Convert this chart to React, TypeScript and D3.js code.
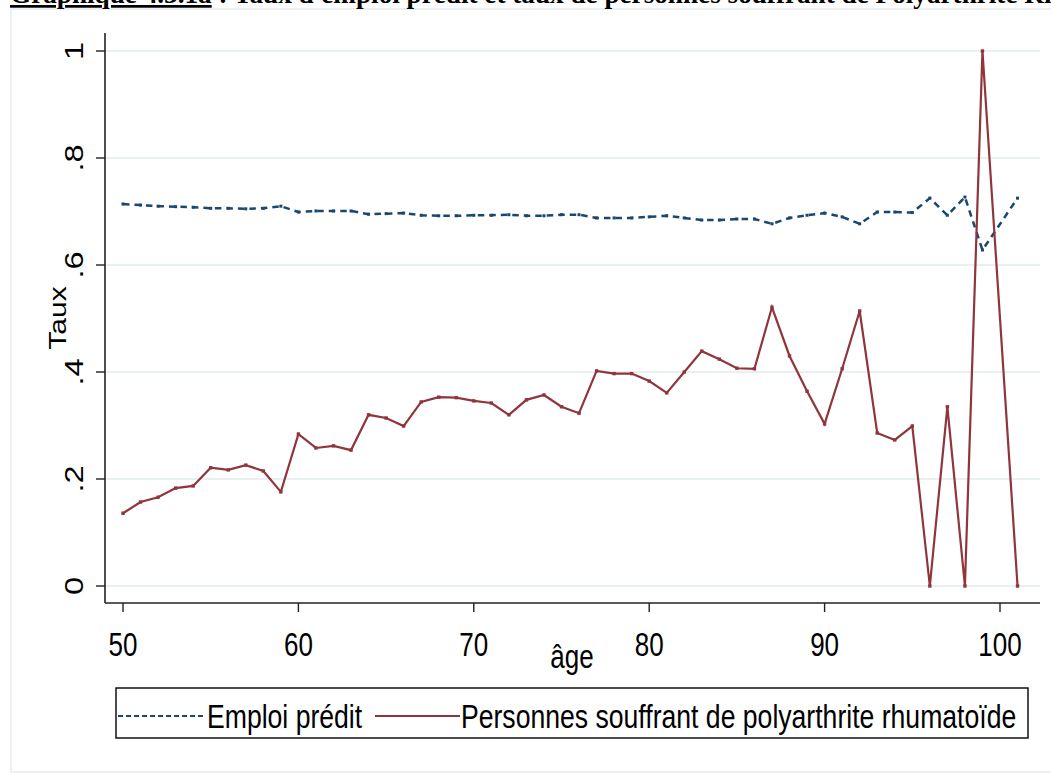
import React from "react";
import * as d3 from "d3";

const ages: number[] = [50,51,52,53,54,55,56,57,58,59,60,61,62,63,64,65,66,67,68,69,70,71,72,73,74,75,76,77,78,79,80,81,82,83,84,85,86,87,88,89,90,91,92,93,94,95,96,97,98,99,100,101];

const emploiPredit: (number | null)[] = [
  0.714,0.712,0.710,0.709,0.708,0.706,0.706,0.705,0.706,0.710,
  0.699,0.701,0.701,0.701,0.695,0.696,0.697,0.693,0.692,0.692,
  0.693,0.693,0.694,0.692,0.692,0.694,0.694,0.688,0.688,0.688,
  0.690,0.692,0.688,0.684,0.684,0.686,0.686,0.677,0.688,0.693,
  0.697,0.690,0.677,0.699,0.699,0.698,0.725,0.693,0.727,0.628,
  null,0.725
];

const polyarthrite: (number | null)[] = [
  0.136,0.157,0.166,0.183,0.187,0.221,0.217,0.226,0.215,0.176,
  0.284,0.258,0.262,0.254,0.320,0.314,0.299,0.344,0.353,0.352,
  0.346,0.342,0.320,0.348,0.357,0.335,0.323,0.402,0.397,0.397,
  0.383,0.361,0.400,0.439,0.424,0.407,0.406,0.521,0.430,0.364,
  0.303,0.406,0.514,0.286,0.273,0.299,0,0.335,0,1.0,
  null,0
];

const xTicks: number[] = [50,60,70,80,90,100];
const yTicks: number[] = [0,0.2,0.4,0.6,0.8,1];
const yTickLabels: string[] = ["0",".2",".4",".6",".8","1"];

const seriesNames: string[] = ["Emploi prédit", "Personnes souffrant de polyarthrite rhumatoïde"];
const titleLead = "Graphique 4.3.1a";
const titleRest = " : Taux d'emploi prédit et taux de personnes souffrant de Polyarthrite Rhumatoïde";
const xTitle = "âge";
const yTitle = "Taux";

const BLUE = "#1a476f";
const RED = "#90353b";
const GRID = "#e9f0f2";
const SANS = "'Liberation Sans', Arial, sans-serif";
const SY = 1.25;

export default function App() {
  const W = 1051, H = 774;
  const plot = { left: 105, right: 1040, top: 33, bottom: 603 };
  const x = d3.scaleLinear().domain([50, 100]).range([123, 1000]);
  const y = d3.scaleLinear().domain([0, 1]).range([586, 51]);

  const mk = (vals: (number | null)[]) =>
    ages.map((a, i) => ({ a, v: vals[i] })).filter(d => d.v !== null) as { a: number; v: number }[];
  const empPts = mk(emploiPredit);
  const polyPts = mk(polyarthrite);
  const line = d3.line<{ a: number; v: number }>().x(d => x(d.a)).y(d => y(d.v));

  const fs = 26;
  const lfs = 26.6;

  return (
    <svg width={W} height={H} style={{ position: "absolute", left: 0, top: 0, background: "#fff" }}>
      {/* outer frame */}
      <rect x={11} y={9} width={1100} height={763} fill="none" stroke="#e6ecef" strokeWidth={1.5} />
      {/* title (clipped at the top edge as in the source) */}
      <text x={10} y={3} fontFamily="'Liberation Serif', 'Times New Roman', serif" fontWeight="bold" fontSize={27.2} fill="#000">
        <tspan textDecoration="underline">{titleLead}</tspan>
        <tspan>{titleRest}</tspan>
      </text>
      {/* gridlines */}
      {yTicks.map(t => (
        <line key={"g" + t} x1={plot.left} x2={plot.right} y1={y(t)} y2={y(t)} stroke={GRID} strokeWidth={2} />
      ))}
      {/* axes */}
      <line x1={plot.left} x2={plot.left} y1={plot.top} y2={plot.bottom} stroke="#222" strokeWidth={1.6} />
      <line x1={plot.left} x2={plot.right} y1={plot.bottom} y2={plot.bottom} stroke="#222" strokeWidth={1.6} />
      {yTicks.map((t, i) => (
        <g key={"yt" + t}>
          <line x1={plot.left - 9} x2={plot.left} y1={y(t)} y2={y(t)} stroke="#222" strokeWidth={1.4} />
          <g transform={`translate(83,${y(t)}) rotate(-90) scale(${SY},1)`}>
            <text textAnchor="middle" fontFamily={SANS} fontSize={fs} fill="#000">{yTickLabels[i]}</text>
          </g>
        </g>
      ))}
      {xTicks.map(t => (
        <g key={"xt" + t}>
          <line x1={x(t)} x2={x(t)} y1={plot.bottom} y2={plot.bottom + 9} stroke="#222" strokeWidth={1.4} />
          <g transform={`translate(${x(t)},656) scale(1,${SY})`}>
            <text textAnchor="middle" fontFamily={SANS} fontSize={fs} fill="#000">{t}</text>
          </g>
        </g>
      ))}
      <g transform={`translate(572,668) scale(1,${SY})`}>
        <text textAnchor="middle" fontFamily={SANS} fontSize={fs} fill="#000">{xTitle}</text>
      </g>
      <g transform={`translate(66,318) rotate(-90) scale(${SY},1)`}>
        <text textAnchor="middle" fontFamily={SANS} fontSize={24} fill="#000">{yTitle}</text>
      </g>
      {/* series */}
      <path d={line(empPts) || ""} fill="none" stroke={BLUE} strokeWidth={2.5} strokeDasharray="6.5,5" />
      {empPts.map(d => (
        <rect key={"em" + d.a} x={x(d.a) - 1.5} y={y(d.v) - 1.5} width={3} height={3} fill={BLUE} />
      ))}
      <path d={line(polyPts) || ""} fill="none" stroke={RED} strokeWidth={2.2} strokeLinejoin="miter" />
      {polyPts.map(d => (
        <rect key={"po" + d.a} x={x(d.a) - 1.7} y={y(d.v) - 1.7} width={3.4} height={3.4} fill={RED} />
      ))}
      {/* legend */}
      <rect x={116} y={688} width={912} height={50} fill="#fff" stroke="#111" strokeWidth={1.5} />
      <line x1={118} x2={205} y1={716} y2={716} stroke={BLUE} strokeWidth={2} strokeDasharray="5,3" />
      <g transform={`translate(207,728) scale(1,${SY})`}>
        <text fontFamily={SANS} fontSize={lfs} fill="#000">{seriesNames[0]}</text>
      </g>
      <line x1={375} x2={460} y1={716} y2={716} stroke={RED} strokeWidth={2.2} />
      <g transform={`translate(461,728) scale(1,${SY})`}>
        <text fontFamily={SANS} fontSize={lfs} fill="#000">{seriesNames[1]}</text>
      </g>
    </svg>
  );
}
